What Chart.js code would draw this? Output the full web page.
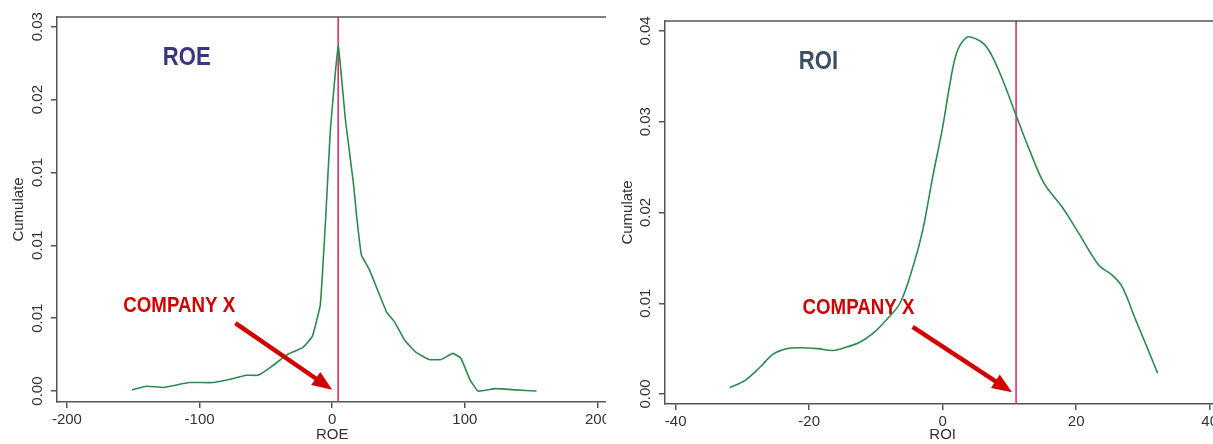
<!DOCTYPE html>
<html>
<head>
<meta charset="utf-8">
<script src="https://cdn.jsdelivr.net/npm/chart.js@4/dist/chart.umd.min.js"></script>
<style>
  body { margin: 0; background: #fff; }
  .panel { position: absolute; top: 0; height: 444px; overflow: hidden; }
</style>
</head>
<body>
<div class="panel" style="left:0;width:606px"><canvas id="roe" width="613" height="444"></canvas></div>
<div class="panel" style="left:606px;width:607px"><canvas id="roi" width="615" height="444"></canvas></div>
<script>
// ROE density
const roeX = [-151, -140, -127, -108, -90, -76, -65, -56, -46, -34, -22, -15, -9, -5, -1.5, 4.5, 10, 16, 18.5, 22, 28, 41, 47, 54.5, 63, 73, 82, 91, 97, 104, 110, 123, 138, 154];
const roeY = [0.0001, 0.0004, 0.0003, 0.0007, 0.0007, 0.001, 0.0013, 0.0013, 0.002, 0.003, 0.0036, 0.0045, 0.0071, 0.0141, 0.0213, 0.0284, 0.0223, 0.0171, 0.0143, 0.0112, 0.01, 0.0065, 0.0057, 0.0042, 0.0032, 0.0026, 0.0026, 0.0031, 0.0027, 0.0009, 0.0, 0.0002, 0.0001, 0.0];
const roeXTicks = [-200, -100, 0, 100, 200];
const roeYTicks = [0, 0.006, 0.012, 0.018, 0.024, 0.03];
const roeYLabels = ['0.00', '0.01', '0.01', '0.01', '0.02', '0.03'];
const roeMarker = 4.5;

// ROI density
const roiX = [-31.9, -29.6, -27.3, -25.4, -23.3, -21.3, -18.8, -16.4, -14.3, -12.4, -10.4, -8.4, -6.4, -4.5, -3.0, -1.5, 0, 1.0, 2.1, 3.6, 5.1, 6.3, 7.5, 9.0, 11.0, 13.0, 15.2, 17.9, 20.4, 23.4, 25.4, 26.9, 28.9, 30.6, 32.2];
const roiY = [0.0007, 0.0015, 0.003, 0.0044, 0.005, 0.0051, 0.005, 0.0048, 0.0052, 0.0057, 0.0067, 0.0082, 0.01, 0.0139, 0.018, 0.0239, 0.0294, 0.0338, 0.0376, 0.0393, 0.0391, 0.0385, 0.0371, 0.0346, 0.0307, 0.0269, 0.0232, 0.0206, 0.0177, 0.0142, 0.0131, 0.0118, 0.0082, 0.0052, 0.0023];
const roiXTicks = [-40, -20, 0, 20, 40];
const roiYTicks = [0, 0.01, 0.02, 0.03, 0.04];
const roiYLabels = ['0.00', '0.01', '0.02', '0.03', '0.04'];
const roiMarker = 11;

const axisColor = '#555';
const textColor = '#333';
const tickFont = { family: '"Liberation Sans", Arial, sans-serif', size: 15 };
const boldFont = '"Liberation Sans", Arial, sans-serif';

// narrow bold text: no condensed font installed, so squeeze Liberation Sans
function narrowText(ctx, text, x, y) {
    ctx.save();
    ctx.translate(x, y);
    ctx.scale(0.85, 1);
    ctx.fillText(text, 0, 0);
    ctx.restore();
}

// draws the top frame line, rotated y labels, title and the COMPANY X arrow
const panelDecor = {
    id: 'panelDecor',
    afterDraw(chart) {
        const cfg = chart.options.plugins.panelDecor;
        const { ctx, chartArea } = chart;
        const xs = chart.scales.x;
        const ys = chart.scales.y;

        ctx.save();
        ctx.strokeStyle = axisColor;
        ctx.lineWidth = 1.5;
        ctx.beginPath();
        ctx.moveTo(chartArea.left, chartArea.top);
        ctx.lineTo(chartArea.right, chartArea.top);
        ctx.stroke();

        ctx.fillStyle = textColor;
        ctx.font = `${tickFont.size}px ${tickFont.family}`;
        ctx.textAlign = 'center';
        ctx.textBaseline = 'middle';
        cfg.yTicks.forEach((v, i) => {
            ctx.save();
            ctx.translate(chartArea.left - 19, ys.getPixelForValue(v));
            ctx.rotate(-Math.PI / 2);
            ctx.fillText(cfg.yLabels[i], 0, 0);
            ctx.restore();
        });

        ctx.font = `bold 26px ${boldFont}`;
        ctx.fillStyle = cfg.titleColor;
        narrowText(ctx, cfg.title, xs.getPixelForValue(cfg.titleAt[0]), ys.getPixelForValue(cfg.titleAt[1]));

        ctx.font = `bold 22px ${boldFont}`;
        ctx.fillStyle = '#d00000';
        ctx.textAlign = 'left';
        narrowText(ctx, 'COMPANY X', xs.getPixelForValue(cfg.labelAt[0]), ys.getPixelForValue(cfg.labelAt[1]));

        const x1 = xs.getPixelForValue(cfg.arrow[0]), y1 = ys.getPixelForValue(cfg.arrow[1]);
        const x2 = xs.getPixelForValue(cfg.arrow[2]), y2 = ys.getPixelForValue(cfg.arrow[3]);
        const ang = Math.atan2(y2 - y1, x2 - x1);
        const head = 20;
        ctx.strokeStyle = '#d00000';
        ctx.lineWidth = 4.5;
        ctx.beginPath();
        ctx.moveTo(x1, y1);
        ctx.lineTo(x2 - head * 0.8 * Math.cos(ang), y2 - head * 0.8 * Math.sin(ang));
        ctx.stroke();
        ctx.beginPath();
        ctx.moveTo(x2, y2);
        ctx.lineTo(x2 - head * Math.cos(ang) + 8 * Math.sin(ang), y2 - head * Math.sin(ang) - 8 * Math.cos(ang));
        ctx.lineTo(x2 - head * Math.cos(ang) - 8 * Math.sin(ang), y2 - head * Math.sin(ang) + 8 * Math.cos(ang));
        ctx.closePath();
        ctx.fillStyle = '#d00000';
        ctx.fill();
        ctx.restore();
    }
};

function buildChart(id, cfg) {
    const points = cfg.x.map((x, i) => ({ x, y: cfg.y[i] }));
    return new Chart(document.getElementById(id), {
        type: 'line',
        data: {
            datasets: [
                { data: points, borderColor: '#2e8b4e', borderWidth: 1.6, pointRadius: 0, tension: cfg.tension },
                { data: [{ x: cfg.marker, y: cfg.yMin }, { x: cfg.marker, y: cfg.yMax }], borderColor: '#d6336c', borderWidth: 1.6, pointRadius: 0 }
            ]
        },
        options: {
            responsive: false,
            animation: false,
            devicePixelRatio: 1,
            layout: { padding: { top: cfg.top, left: 0, right: 0, bottom: 0 } },
            plugins: {
                legend: { display: false },
                tooltip: { enabled: false },
                panelDecor: cfg.decor
            },
            scales: {
                x: {
                    type: 'linear',
                    min: cfg.xMin,
                    max: cfg.xMax,
                    afterBuildTicks: (s) => { s.ticks = cfg.xTicks.map((v) => ({ value: v })); },
                    afterFit: (s) => { s.height = cfg.bottomH; },
                    ticks: { font: tickFont, color: textColor, padding: 3, maxRotation: 0, autoSkip: false },
                    grid: { drawOnChartArea: false, drawTicks: true, tickLength: 6, color: axisColor, lineWidth: 1.5 },
                    border: { color: axisColor, width: 1.5 },
                    title: { display: true, text: cfg.xTitle, font: tickFont, color: textColor, padding: { top: 0, bottom: cfg.xTitlePad } }
                },
                y: {
                    min: cfg.yMin,
                    max: cfg.yMax,
                    afterBuildTicks: (s) => { s.ticks = cfg.decor.yTicks.map((v) => ({ value: v })); },
                    afterFit: (s) => { s.width = cfg.leftW; },
                    ticks: { display: false },
                    grid: { drawOnChartArea: false, drawTicks: true, tickLength: 6, color: axisColor, lineWidth: 1.5 },
                    border: { color: axisColor, width: 1.5 },
                    title: { display: true, text: 'Cumulate', font: tickFont, color: textColor, padding: { top: cfg.yTitlePad, bottom: 0 } }
                }
            }
        },
        plugins: [panelDecor]
    });
}

buildChart('roe', {
    x: roeX, y: roeY, tension: 0.1, marker: roeMarker,
    xMin: -207.5, xMax: 207.5, yMin: -0.0009, yMax: 0.0308,
    xTicks: roeXTicks, xTitle: 'ROE', xTitlePad: 0, yTitlePad: 10,
    top: 17, bottomH: 42, leftW: 57,
    decor: {
        yTicks: roeYTicks, yLabels: roeYLabels,
        title: 'ROE', titleColor: '#3a3580', titleAt: [-109.7, 0.0274],
        labelAt: [-157.5, 0.007], arrow: [-73, 0.0056, 0, 0.0001]
    }
});

buildChart('roi', {
    x: roiX, y: roiY, tension: 0.35, marker: roiMarker,
    xMin: -41.6, xMax: 41.6, yMin: -0.0011, yMax: 0.0411,
    xTicks: roiXTicks, xTitle: 'ROI', xTitlePad: 0, yTitlePad: 13,
    top: 21, bottomH: 40, leftW: 59,
    decor: {
        yTicks: roiYTicks, yLabels: roiYLabels,
        title: 'ROI', titleColor: '#3e4f63', titleAt: [-18.6, 0.0366],
        labelAt: [-21.0, 0.0095], arrow: [-4.5, 0.0074, 10.4, 0.0002]
    }
});
</script>
</body>
</html>
